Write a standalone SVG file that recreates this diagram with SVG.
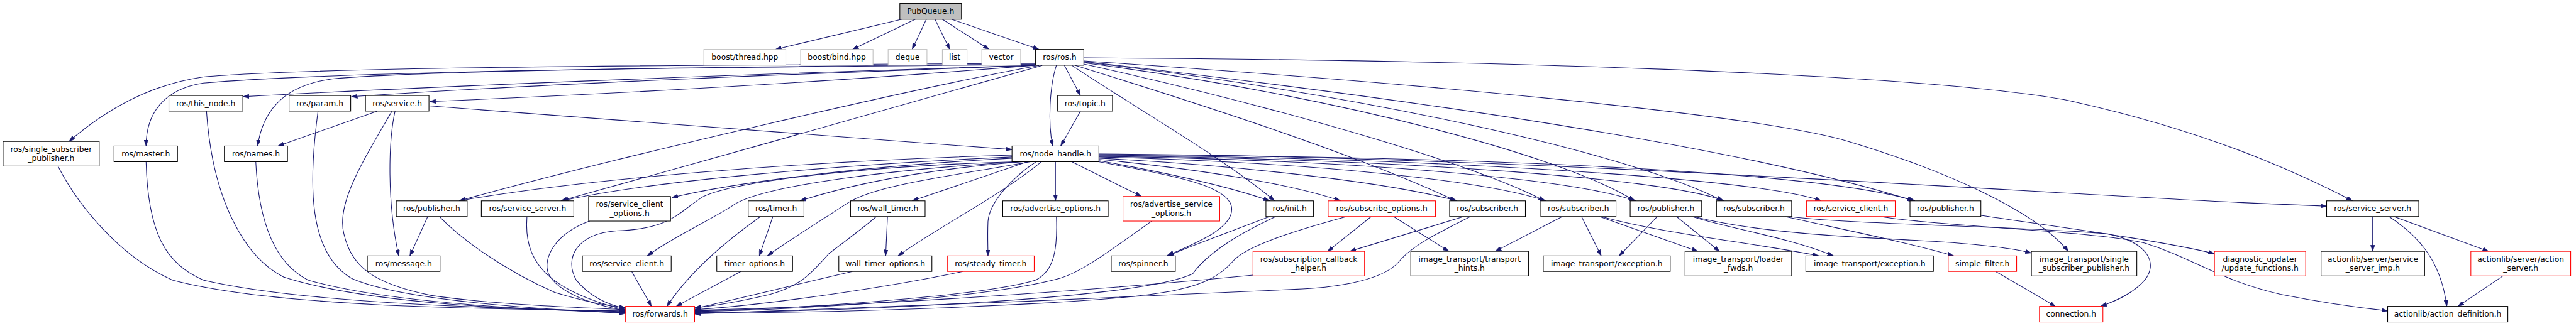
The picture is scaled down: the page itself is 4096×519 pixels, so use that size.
<svg xmlns="http://www.w3.org/2000/svg" width="4096" height="519" viewBox="0 0 4096 519">
<style>
.bx{fill:#ffffff;stroke:#000000;stroke-width:1.1}
.rd{fill:#ffffff;stroke:#ff0000;stroke-width:1.1}
.gy{fill:#ffffff;stroke:#bfbfbf;stroke-width:1.1}
.tp{fill:#bfbfbf;stroke:#000000;stroke-width:1.1}
text{font-family:"DejaVu Sans","Liberation Sans",sans-serif;font-size:12.6px;fill:#000000;text-anchor:middle}
.ed path{fill:none;stroke:#191970;stroke-width:1.1;marker-end:url(#ah)}
</style>
<defs>
<marker id="ah" viewBox="0 0 10 7" refX="10" refY="3.5" markerWidth="10" markerHeight="7" markerUnits="userSpaceOnUse" orient="auto">
<path d="M0,0 L10,3.5 L0,7 z" fill="#191970" stroke="#191970" stroke-width="0.5"/>
</marker>
</defs>
<rect x="0" y="0" width="4096" height="519" fill="#ffffff"/>
<g transform="scale(0.98)">
<g id="edges" class="ed">
<path d="M1463,31.4 L1258,80.3"/>
<path d="M1485,31.4 L1383,80.3"/>
<path d="M1503,31.4 L1480,80.3"/>
<path d="M1517,31.4 L1541,80.3"/>
<path d="M1529,31.4 L1605,80.3"/>
<path d="M1544,31.4 L1686,80.3"/>
<path d="M1680,103 C1000,106 500,110 330,125 C240,138 170,180 112,229.8"/>
<path d="M1680,104 C1000,110 520,118 330,135 C265,145 237,185 237,237.2"/>
<path d="M1680,106 C1300,118 800,135 394,157"/>
<path d="M1680,105 C1100,110 700,114 540,128 C450,140 425,190 418,237.2"/>
<path d="M1680,106 C1300,120 900,135 570,157"/>
<path d="M1680,106 C1450,125 1100,148 697,165"/>
<path d="M1727,106.3 L1753,155.2"/>
<path d="M1714,106.3 C1703,140 1700,200 1708,237.2"/>
<path d="M1753,180.5 L1721,237.2"/>
<path d="M1686,106.3 C1500,140 1000,255 745,326.3"/>
<path d="M1691,106.3 C1500,160 1150,260 910,326.3"/>
<path d="M1739,106.3 C1850,180 1990,260 2068,326.3"/>
<path d="M1758.5,94 C2400,97 3100,118 3350,162 C3550,205 3700,265 3817,326.3"/>
<path d="M1758.5,99 C2300,135 2850,185 3000,230 C3150,275 3300,340 3356,408.3"/>
<path d="M1758.5,100 C2200,150 2800,230 3105,326.3"/>
<path d="M1758.5,101 C2200,150 2650,250 2795,326.3"/>
<path d="M1758.5,102 C2200,160 2550,260 2652,326.3"/>
<path d="M1758.5,104 C2100,180 2400,270 2506,326.3"/>
<path d="M1745,106.3 C1950,170 2200,250 2362,326.3"/>
<path d="M1642,252 C1300,262 950,290 745,326.3"/>
<path d="M1642,255 C1350,268 1050,295 912,326.3"/>
<path d="M1642,257 C1400,270 1200,295 1090,321"/>
<path d="M1650,262.7 C1400,270 1190,295 1140,320 C1100,345 1090,372 1000,375 C935,380 915,420 935,455 C955,480 985,495 1015,501"/>
<path d="M1655,262.7 C1450,275 1250,300 1195,330 C1150,360 1100,380 1050,415.7"/>
<path d="M1660,262.7 C1500,275 1380,300 1298,326.3"/>
<path d="M1672,262.7 C1550,285 1420,300 1375,330 C1330,360 1280,390 1245,415.7"/>
<path d="M1667,262.7 L1480,326.3"/>
<path d="M1690,262.7 C1620,320 1520,370 1457,415.7"/>
<path d="M1681,262.7 C1640,290 1605,330 1603,360 C1602,385 1603,400 1603,415.7"/>
<path d="M1712.5,262.7 L1712.5,326.3"/>
<path d="M1739,262.7 L1852,319.2"/>
<path d="M1783,262.7 C1900,285 1990,300 1998,335 C2005,370 1940,395 1893,415.7"/>
<path d="M1783,261 C1900,282 2000,305 2060,326.3"/>
<path d="M1783,259 C1950,275 2100,300 2175,326.3"/>
<path d="M1783,257 C2000,268 2250,295 2364,326.3"/>
<path d="M1783,255 C2100,263 2400,290 2508,326.3"/>
<path d="M1783,254 C2200,260 2550,290 2654,326.3"/>
<path d="M1783,253 C2250,258 2700,288 2797,326.3"/>
<path d="M1783,252 C2300,256 2850,288 2955,326.3"/>
<path d="M1783,251 C2400,254 2950,278 3107,326.3"/>
<path d="M1783,250 C2400,254 3100,300 3500,322 C3600,328 3700,332 3775,335"/>
<path d="M612,180.5 L451,237.2"/>
<path d="M641,180.5 C630,230 628,330 647,415.7"/>
<path d="M636,180.5 C590,260 545,330 558,380 C570,430 600,460 700,480 C800,495 950,500 1015,503"/>
<path d="M696,172 C1000,195 1400,225 1642,243"/>
<path d="M694,351.8 L665,415.7"/>
<path d="M713,351.8 C750,390 820,440 900,475 C950,490 980,496 1015,500"/>
<path d="M94,269.8 C130,340 200,420 280,455 C450,500 800,502 1015,505"/>
<path d="M237,262.7 C240,380 270,430 330,455 C500,495 850,502 1015,506"/>
<path d="M335,180.5 C345,330 400,420 460,450 C600,495 850,503 1015,507"/>
<path d="M415,262.7 C420,370 450,430 500,455 C620,490 850,503 1015,508"/>
<path d="M516,180.5 C500,300 500,410 570,452 C650,488 870,502 1015,509"/>
<path d="M855,351.8 C850,420 880,470 1015,503.5"/>
<path d="M957,359 C900,380 880,420 890,445 C905,475 960,495 1015,504.5"/>
<path d="M1025,441 L1057,497.6"/>
<path d="M1234,351.8 C1180,390 1120,440 1082,497.6"/>
<path d="M1254,351.8 L1232,415.7"/>
<path d="M1202,441 L1097,497.6"/>
<path d="M1440,351.8 L1437,415.7"/>
<path d="M1422,351.8 C1395,375 1360,400 1345,412 C1320,440 1300,465 1250,478 C1200,490 1165,496 1127,500"/>
<path d="M1383,441 C1300,460 1200,485 1127,501"/>
<path d="M1562,441 C1450,465 1250,495 1127,503"/>
<path d="M1714,351.8 C1716,400 1712,440 1680,455 C1600,480 1300,502 1127,505"/>
<path d="M1869,359 C1810,400 1760,440 1720,452 C1600,485 1300,503 1127,506"/>
<path d="M2070,351.8 C2010,380 1960,410 1935,445 C1850,485 1400,505 1127,508"/>
<path d="M2060,351.8 C2000,375 1930,400 1895,415.7"/>
<path d="M2185,351.8 C2100,375 2020,400 2000,425 C1960,470 1900,480 1700,492 C1500,503 1300,508 1127,509"/>
<path d="M2033,447 C1800,470 1400,498 1127,504"/>
<path d="M2386,351.8 C2330,380 2290,400 2270,425 C2240,460 2150,468 2100,470 C1800,485 1400,500 1127,510"/>
<path d="M2225,351.8 L2154,408.3"/>
<path d="M2261,351.8 L2351,408.3"/>
<path d="M2375,351.8 L2190,408.3"/>
<path d="M2535,351.8 L2426,408.3"/>
<path d="M2566,351.8 L2598,415.7"/>
<path d="M2595,351.8 L2755,408.3"/>
<path d="M2598,351.8 C2700,380 2850,395 2951,415.7"/>
<path d="M2689,351.8 L2627,415.7"/>
<path d="M2720,351.8 L2790,408.3"/>
<path d="M2745,351.8 C2800,370 2900,385 2975,415.7"/>
<path d="M2748,351.8 C2850,378 3000,385 3100,390 C3200,395 3260,402 3296,411"/>
<path d="M2896,351.8 C3000,375 3100,395 3170,415.7"/>
<path d="M2904,351.8 C3000,365 3300,368 3420,380 C3490,395 3500,430 3480,455 C3460,478 3430,490 3408,497.6"/>
<path d="M3238,441 L3335,497.6"/>
<path d="M3050,351.8 C3150,368 3400,375 3480,395 C3560,420 3600,455 3700,478 C3770,492 3830,500 3874,505"/>
<path d="M3214,350 C3350,370 3500,390 3593,412"/>
<path d="M3849.7,351.8 L3849.7,408.3"/>
<path d="M3876,351.8 C3920,380 3960,420 3970,497.6"/>
<path d="M3884,351.8 L4038,408.3"/>
<path d="M4061,448.3 L3988,497.6"/>
</g>
<g id="n1"><rect class="tp" x="1460" y="5.7" width="100" height="25.7"/><text x="1510" y="22.8">PubQueue.h</text></g>
<g id="n2"><rect class="gy" x="1142" y="80.3" width="133" height="25.7"/><text x="1208.5" y="97.3">boost/thread.hpp</text></g>
<g id="n3"><rect class="gy" x="1299" y="80.3" width="117.5" height="25.7"/><text x="1357.8" y="97.3">boost/bind.hpp</text></g>
<g id="n4"><rect class="gy" x="1441" y="80.3" width="63" height="25.7"/><text x="1472.5" y="97.3">deque</text></g>
<g id="n5"><rect class="gy" x="1529" y="80.3" width="40" height="25.7"/><text x="1549" y="97.3">list</text></g>
<g id="n6"><rect class="gy" x="1593" y="80.3" width="63" height="25.7"/><text x="1624.5" y="97.3">vector</text></g>
<g id="n7"><rect class="bx" x="1680" y="80.3" width="78.5" height="25.7"/><text x="1719.3" y="97.3">ros/ros.h</text></g>
<g id="n8"><rect class="bx" x="274" y="155.2" width="120" height="25.3"/><text x="334" y="172.2">ros/this_node.h</text></g>
<g id="n9"><rect class="bx" x="469" y="155.2" width="100" height="25.3"/><text x="519" y="172.2">ros/param.h</text></g>
<g id="n10"><rect class="bx" x="593" y="155.2" width="103" height="25.3"/><text x="644.5" y="172.2">ros/service.h</text></g>
<g id="n11"><rect class="bx" x="1716" y="155.2" width="89" height="25.3"/><text x="1760.5" y="172.2">ros/topic.h</text></g>
<g id="n12"><rect class="bx" x="5" y="229.8" width="156" height="40"/><text x="83" y="246.6">ros/single_subscriber</text><text x="83" y="261.6">_publisher.h</text></g>
<g id="n13"><rect class="bx" x="185" y="237.2" width="103" height="25.5"/><text x="236.5" y="254.2">ros/master.h</text></g>
<g id="n14"><rect class="bx" x="364" y="237.2" width="102.5" height="25.5"/><text x="415.3" y="254.2">ros/names.h</text></g>
<g id="n15"><rect class="bx" x="1642" y="237.2" width="141" height="25.5"/><text x="1712.5" y="254.2">ros/node_handle.h</text></g>
<g id="n16"><rect class="bx" x="643" y="326.3" width="115" height="25.5"/><text x="700.5" y="343.3">ros/publisher.h</text></g>
<g id="n17"><rect class="bx" x="781" y="326.3" width="150" height="25.5"/><text x="856" y="343.3">ros/service_server.h</text></g>
<g id="n18"><rect class="bx" x="955" y="319.2" width="133" height="40"/><text x="1021.5" y="336">ros/service_client</text><text x="1021.5" y="351">_options.h</text></g>
<g id="n19"><rect class="bx" x="1214" y="326.3" width="90.5" height="25.5"/><text x="1259.3" y="343.3">ros/timer.h</text></g>
<g id="n20"><rect class="bx" x="1380" y="326.3" width="121" height="25.5"/><text x="1440.5" y="343.3">ros/wall_timer.h</text></g>
<g id="n21"><rect class="bx" x="1627" y="326.3" width="171" height="25.5"/><text x="1712.5" y="343.3">ros/advertise_options.h</text></g>
<g id="n22"><rect class="rd" x="1822" y="319.2" width="157" height="40"/><text x="1900.5" y="336">ros/advertise_service</text><text x="1900.5" y="351">_options.h</text></g>
<g id="n23"><rect class="bx" x="2054" y="326.3" width="77" height="25.5"/><text x="2092.5" y="343.3">ros/init.h</text></g>
<g id="n24"><rect class="rd" x="2155" y="326.3" width="174" height="25.5"/><text x="2242" y="343.3">ros/subscribe_options.h</text></g>
<g id="n25"><rect class="bx" x="2352" y="326.3" width="123" height="25.5"/><text x="2413.5" y="343.3">ros/subscriber.h</text></g>
<g id="n26"><rect class="bx" x="2500" y="326.3" width="122" height="25.5"/><text x="2561" y="343.3">ros/subscriber.h</text></g>
<g id="n27"><rect class="bx" x="2645" y="326.3" width="116" height="25.5"/><text x="2703" y="343.3">ros/publisher.h</text></g>
<g id="n28"><rect class="bx" x="2785" y="326.3" width="122" height="25.5"/><text x="2846" y="343.3">ros/subscriber.h</text></g>
<g id="n29"><rect class="rd" x="2931" y="326.3" width="144" height="25.5"/><text x="3003" y="343.3">ros/service_client.h</text></g>
<g id="n30"><rect class="bx" x="3099" y="326.3" width="115" height="25.5"/><text x="3156.5" y="343.3">ros/publisher.h</text></g>
<g id="n31"><rect class="bx" x="3775" y="326.3" width="149.5" height="25.5"/><text x="3849.7" y="343.3">ros/service_server.h</text></g>
<g id="n32"><rect class="bx" x="596" y="415.7" width="118" height="25.3"/><text x="655" y="432.7">ros/message.h</text></g>
<g id="n33"><rect class="bx" x="945" y="415.7" width="144" height="25.3"/><text x="1017" y="432.7">ros/service_client.h</text></g>
<g id="n34"><rect class="bx" x="1163" y="415.7" width="123" height="25.3"/><text x="1224.5" y="432.7">timer_options.h</text></g>
<g id="n35"><rect class="bx" x="1361" y="415.7" width="151" height="25.3"/><text x="1436.5" y="432.7">wall_timer_options.h</text></g>
<g id="n36"><rect class="rd" x="1537" y="415.7" width="141" height="25.3"/><text x="1607.5" y="432.7">ros/steady_timer.h</text></g>
<g id="n37"><rect class="bx" x="1803" y="415.7" width="104" height="25.3"/><text x="1855" y="432.7">ros/spinner.h</text></g>
<g id="n38"><rect class="rd" x="2033" y="408.3" width="181" height="40"/><text x="2123.5" y="425.1">ros/subscription_callback</text><text x="2123.5" y="440.1">_helper.h</text></g>
<g id="n39"><rect class="bx" x="2289" y="408.3" width="191" height="40"/><text x="2384.5" y="425.1">image_transport/transport</text><text x="2384.5" y="440.1">_hints.h</text></g>
<g id="n40"><rect class="bx" x="2504" y="415.7" width="206" height="25.3"/><text x="2607" y="432.7">image_transport/exception.h</text></g>
<g id="n41"><rect class="bx" x="2734" y="408.3" width="173" height="40"/><text x="2820.5" y="425.1">image_transport/loader</text><text x="2820.5" y="440.1">_fwds.h</text></g>
<g id="n42"><rect class="bx" x="2930" y="415.7" width="207" height="25.3"/><text x="3033.5" y="432.7">image_transport/exception.h</text></g>
<g id="n43"><rect class="rd" x="3161" y="415.7" width="111" height="25.3"/><text x="3216.5" y="432.7">simple_filter.h</text></g>
<g id="n44"><rect class="bx" x="3296" y="408.3" width="171" height="40"/><text x="3381.5" y="425.1">image_transport/single</text><text x="3381.5" y="440.1">_subscriber_publisher.h</text></g>
<g id="n45"><rect class="rd" x="3593" y="408.3" width="148" height="40"/><text x="3667" y="425.1">diagnostic_updater</text><text x="3667" y="440.1">/update_functions.h</text></g>
<g id="n46"><rect class="bx" x="3766" y="408.3" width="168" height="40"/><text x="3850" y="425.1">actionlib/server/service</text><text x="3850" y="440.1">_server_imp.h</text></g>
<g id="n47"><rect class="rd" x="4009" y="408.3" width="162" height="40"/><text x="4090" y="425.1">actionlib/server/action</text><text x="4090" y="440.1">_server.h</text></g>
<g id="n48"><rect class="rd" x="1015" y="497.6" width="112" height="25.4"/><text x="1071" y="514.6">ros/forwards.h</text></g>
<g id="n49"><rect class="rd" x="3309" y="497.6" width="103" height="25.4"/><text x="3360.5" y="514.6">connection.h</text></g>
<g id="n50"><rect class="bx" x="3874" y="497.6" width="195" height="25.4"/><text x="3971.5" y="514.6">actionlib/action_definition.h</text></g>
</g>
</svg>
